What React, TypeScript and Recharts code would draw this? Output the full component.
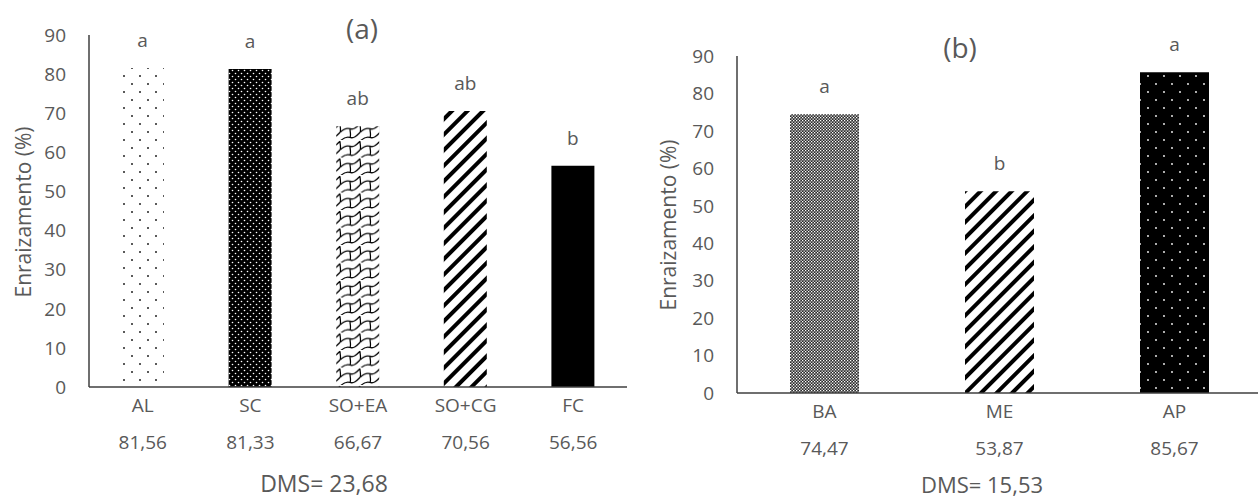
import React from 'react';
import { BarChart, Bar, XAxis, YAxis, Cell, LabelList } from 'recharts';

// painel (a)
const catsA = ['AL', 'SC', 'SO+EA', 'SO+CG', 'FC'];
const valsA = [81.56, 81.33, 66.67, 70.56, 56.56];
const lettersA = ['a', 'a', 'ab', 'ab', 'b'];
const dmsA = 'DMS= 23,68';

// painel (b)
const catsB = ['BA', 'ME', 'AP'];
const valsB = [74.47, 53.87, 85.67];
const lettersB = ['a', 'b', 'a'];
const dmsB = 'DMS= 15,53';

const yTicks = [0, 10, 20, 30, 40, 50, 60, 70, 80, 90];
const yLabel = 'Enraizamento (%)';

const fillsA = ['url(#dotsSparse)', 'url(#dotsDense)', 'url(#shingle)', 'url(#wideDiag)', '#000'];
const fillsB = ['url(#checker)', 'url(#wideDiag)', 'url(#dotsOnBlack)'];

const FONT = '"Open Sans", sans-serif';
const TXT = '#595959';
const AXIS = '#3f3f3f';

const dataA = catsA.map((name, i) => ({ name, value: valsA[i], letter: lettersA[i] }));
const dataB = catsB.map((name, i) => ({ name, value: valsB[i], letter: lettersB[i] }));

const fmt = (v: number) => v.toFixed(2).replace('.', ',');

const makeTick = (data: { name: string; value: number }[]) => (props: any) => {
  const { x, y, payload } = props;
  const d = data.find((r) => r.name === payload.value);
  return (
    <g>
      <text x={x} y={y + 17} textAnchor="middle" fill={TXT} fontSize={19} fontFamily={FONT}>
        {payload.value}
      </text>
      <text x={x} y={y + 54} textAnchor="middle" fill={TXT} fontSize={19} fontFamily={FONT}>
        {d ? fmt(d.value) : ''}
      </text>
    </g>
  );
};

const Patterns = () => (
  <svg width={0} height={0} style={{ position: 'absolute' }}>
    <defs>
      <pattern id="dotsSparse" patternUnits="userSpaceOnUse" width={16} height={16}>
        <rect width={16} height={16} fill="#fff" />
        <circle cx={4} cy={4} r={1} fill="#222" />
        <circle cx={12} cy={12} r={1} fill="#222" />
      </pattern>
      <pattern id="dotsDense" patternUnits="userSpaceOnUse" width={6} height={6}>
        <rect width={6} height={6} fill="#000" />
        <circle cx={1.5} cy={1.5} r={0.8} fill="#fff" />
        <circle cx={4.5} cy={4.5} r={0.8} fill="#fff" />
      </pattern>
      <pattern id="dotsOnBlack" patternUnits="userSpaceOnUse" width={16} height={16}>
        <rect width={16} height={16} fill="#000" />
        <circle cx={4} cy={4} r={0.9} fill="#fff" />
        <circle cx={12} cy={12} r={0.9} fill="#fff" />
      </pattern>
      <pattern id="checker" patternUnits="userSpaceOnUse" width={3} height={3}>
        <rect width={3} height={3} fill="#2a2a2a" />
        <rect x={0} y={0} width={1.3} height={1.3} fill="#fff" />
        <rect x={1.5} y={1.5} width={1.3} height={1.3} fill="#fff" />
      </pattern>
      <pattern id="wideDiag" patternUnits="userSpaceOnUse" width={11} height={11} patternTransform="rotate(45)">
        <rect width={11} height={11} fill="#fff" />
        <rect x={0} y={0} width={4} height={11} fill="#000" />
      </pattern>
      <pattern id="shingle" patternUnits="userSpaceOnUse" width={16} height={14} patternTransform="scale(1.25)">
        <rect width={16} height={14} fill="#fff" />
        <path
          d="M0 8 C3 5 5 4 8 5 C11 6 13 4 16 1 M0 15 C3 12 5 11 8 12 C11 13 13 11 16 8 M8 5 C8 8 9 10 8 12 M0 1 C0 4 1 6 0 8 M16 1 C16 4 17 6 16 8"
          fill="none"
          stroke="#000"
          strokeWidth={1}
        />
      </pattern>
    </defs>
  </svg>
);

const Panel = ({
  data,
  fills,
  width,
  margin,
  yWidth,
  barSize,
}: {
  data: { name: string; value: number; letter: string }[];
  fills: string[];
  width: number;
  margin: { top: number; right: number; left: number; bottom: number };
  yWidth: number;
  barSize: number;
}) => (
  <BarChart width={width} height={500} data={data} margin={margin}>
    <XAxis
      dataKey="name"
      axisLine={{ stroke: AXIS, strokeWidth: 1.5 }}
      tickLine={false}
      height={100}
      interval={0}
      tick={makeTick(data)}
    />
    <YAxis
      width={yWidth}
      domain={[0, 90]}
      ticks={yTicks}
      interval={0}
      axisLine={{ stroke: AXIS, strokeWidth: 1.5 }}
      tickLine={false}
      tickMargin={17}
      tick={{ fill: TXT, fontSize: 19, fontFamily: FONT }}
    />
    <Bar dataKey="value" barSize={barSize} isAnimationActive={false}>
      {data.map((entry, i) => (
        <Cell key={`c-${entry.name}`} fill={fills[i]} />
      ))}
      <LabelList dataKey="letter" position="top" offset={21} fill={TXT} fontSize={19} fontFamily={FONT} />
    </Bar>
  </BarChart>
);

export default function App() {
  return (
    <div
      style={{
        position: 'absolute',
        left: 0,
        top: 0,
        width: 1258,
        height: 500,
        overflow: 'hidden',
        background: '#fff',
        fontFamily: FONT,
      }}
    >
      <Patterns />
      <div style={{ position: 'absolute', left: 0, top: 0 }}>
        <Panel
          data={dataA}
          fills={fillsA}
          width={640}
          margin={{ top: 35, right: 13, left: 0, bottom: 13 }}
          yWidth={89}
          barSize={43}
        />
      </div>
      <div style={{ position: 'absolute', left: 640, top: 0 }}>
        <Panel
          data={dataB}
          fills={fillsB}
          width={622}
          margin={{ top: 56, right: 0, left: 0, bottom: 7 }}
          yWidth={97}
          barSize={69}
        />
      </div>
      <svg
        width={1258}
        height={500}
        style={{ position: 'absolute', left: 0, top: 0, pointerEvents: 'none' }}
      >
        <text x={362} y={28} textAnchor="middle" dominantBaseline="central" fill={TXT} fontSize={28} fontFamily={FONT}>
          (a)
        </text>
        <text x={960} y={47} textAnchor="middle" dominantBaseline="central" fill={TXT} fontSize={28} fontFamily={FONT}>
          (b)
        </text>
        <text
          x={23}
          y={212}
          textAnchor="middle"
          dominantBaseline="central"
          transform="rotate(-90 23 212)"
          fill={TXT}
          fontSize={21}
          fontFamily={FONT}
        >
          {yLabel}
        </text>
        <text
          x={668}
          y={225}
          textAnchor="middle"
          dominantBaseline="central"
          transform="rotate(-90 668 225)"
          fill={TXT}
          fontSize={21}
          fontFamily={FONT}
        >
          {yLabel}
        </text>
        <text x={324} y={483} textAnchor="middle" dominantBaseline="central" fill={TXT} fontSize={23} fontFamily={FONT}>
          {dmsA}
        </text>
        <text x={982} y={484} textAnchor="middle" dominantBaseline="central" fill={TXT} fontSize={22} fontFamily={FONT}>
          {dmsB}
        </text>
      </svg>
    </div>
  );
}
